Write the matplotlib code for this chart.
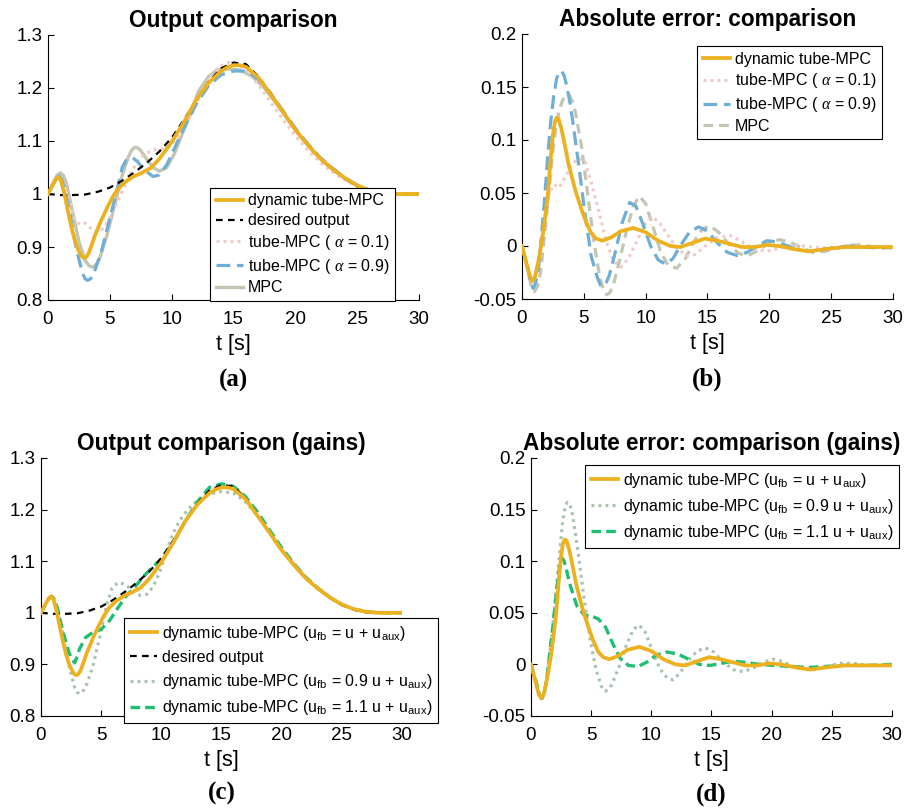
import matplotlib
matplotlib.use("Agg")
import matplotlib.pyplot as plt

plt.rcParams["font.family"] = ["Liberation Sans", "DejaVu Sans"]
plt.rcParams["mathtext.fontset"] = "custom"
plt.rcParams["mathtext.rm"] = "Liberation Sans"
plt.rcParams["mathtext.it"] = "Liberation Serif:italic"
plt.rcParams["lines.solid_joinstyle"] = "round"
plt.rcParams["lines.dash_joinstyle"] = "round"

# ---- data ------------------------------------------------------------------
# (a) / (c) outputs
T_DES = [0, 1, 2, 3, 4, 5, 6, 7, 8, 9, 10, 11, 12, 13, 14, 15, 16, 17, 18, 19,
         20, 21, 22, 23, 24, 25, 26, 27, 28, 30]
Y_DES = [1.0, 0.998, 0.998, 0.999, 1.004, 1.012, 1.025, 1.041, 1.059, 1.08,
         1.106, 1.14, 1.178, 1.212, 1.237, 1.248, 1.245, 1.222, 1.19, 1.156,
         1.122, 1.093, 1.067, 1.047, 1.029, 1.015, 1.006, 1.001, 1.0, 1.0]

T_DYN_OUT = [0, 0.4, 0.65, 0.85, 1.05, 1.3, 1.5, 1.7, 1.9, 2.1, 2.3, 2.5, 2.7,
             2.9, 3.1, 3.3, 3.55, 3.8, 4.3, 4.8, 5.2, 5.6, 6.2, 6.9, 7.6, 8.3,
             9.0, 10, 11, 12, 13, 14, 14.5, 15, 15.5, 16, 17, 18, 19, 20, 21,
             22, 23, 24, 25, 26, 27, 28, 30]
Y_DYN_OUT = [1.0, 1.018, 1.028, 1.032, 1.025, 1.003, 0.98, 0.958, 0.937, 0.918,
             0.903, 0.892, 0.883, 0.879, 0.881, 0.889, 0.905, 0.922, 0.95, 0.975,
             0.993, 1.008, 1.022, 1.033, 1.04, 1.049, 1.066, 1.098, 1.136, 1.178,
             1.21, 1.232, 1.239, 1.243, 1.243, 1.24, 1.22, 1.188, 1.155, 1.121,
             1.093, 1.067, 1.047, 1.03, 1.016, 1.007, 1.002, 1.0, 1.0]

T_TUBE01_OUT = [0, 0.45, 0.7, 0.9, 1.1, 1.35, 1.8, 2.2, 2.6, 3.0, 3.5, 4.0, 4.5,
                5.0, 5.5, 6.0, 6.6, 7.2, 7.8, 8.5, 9.2, 9.8, 10.4, 11.0, 11.6,
                12.3, 13.0, 13.8, 14.6, 15.4, 16.2, 17.2, 18.2, 19.2, 20.2, 21.2,
                22.2, 23.2, 24.2, 25.2, 26.2, 27.2, 28.2, 30]
Y_TUBE01_OUT = [1.0, 1.02, 1.029, 1.032, 1.026, 1.012, 0.98, 0.95, 0.942, 0.945,
                0.935, 0.928, 0.935, 0.955, 0.98, 1.005, 1.035, 1.06, 1.075, 1.083,
                1.085, 1.09, 1.105, 1.125, 1.15, 1.185, 1.215, 1.24, 1.248, 1.245,
                1.23, 1.2, 1.167, 1.134, 1.104, 1.078, 1.056, 1.038, 1.024, 1.012,
                1.004, 1.0, 0.999, 1.0]

T_TUBE09_OUT = [0, 0.45, 0.7, 0.9, 1.1, 1.35, 1.8, 2.3, 2.8, 3.0, 3.2, 3.45, 3.7,
                4.3, 4.9, 5.5, 6.0, 6.3, 6.6, 6.9, 7.2, 7.8, 8.5, 9.0, 9.6, 10.2,
                11, 12, 13, 14, 15, 16, 17, 18, 19, 20, 21, 22, 23, 24, 25, 26,
                27, 28, 30]
Y_TUBE09_OUT = [1.0, 1.02, 1.03, 1.034, 1.028, 1.01, 0.96, 0.895, 0.85, 0.84,
                0.837, 0.84, 0.85, 0.89, 0.945, 1.0, 1.05, 1.063, 1.068, 1.067,
                1.062, 1.045, 1.033, 1.036, 1.055, 1.085, 1.125, 1.17, 1.205, 1.225,
                1.232, 1.232, 1.217, 1.19, 1.157, 1.124, 1.095, 1.069, 1.049, 1.031,
                1.017, 1.007, 1.002, 1.0, 1.0]

T_MPC_OUT = [0, 0.5, 0.75, 1.0, 1.25, 1.5, 2.0, 2.5, 3.0, 3.3, 3.6, 3.9, 4.2,
             4.8, 5.4, 6.0, 6.5, 6.75, 7.0, 7.25, 7.5, 8.0, 8.5, 9.0, 9.6, 10.2,
             10.8, 11.5, 12.2, 13.0, 13.7, 14.5, 15.5, 16.5, 17.5, 18.5, 19.5,
             20.5, 21.5, 22.5, 23.5, 24.5, 25.5, 26.5, 27.5, 30]
Y_MPC_OUT = [1.0, 1.025, 1.036, 1.04, 1.035, 1.02, 0.965, 0.91, 0.875, 0.865,
             0.862, 0.867, 0.88, 0.925, 0.98, 1.035, 1.07, 1.082, 1.088, 1.087,
             1.082, 1.065, 1.05, 1.043, 1.05, 1.075, 1.11, 1.15, 1.195, 1.222,
             1.234, 1.236, 1.234, 1.222, 1.2, 1.17, 1.137, 1.106, 1.079, 1.057,
             1.038, 1.022, 1.01, 1.003, 1.0, 1.0]

T_GAIN09_OUT = [0, 0.45, 0.7, 0.9, 1.1, 1.35, 1.8, 2.3, 2.8, 3.0, 3.2, 3.45, 3.7,
                4.3, 4.9, 5.4, 5.9, 6.4, 7.0, 7.6, 8.2, 8.8, 9.3, 9.8, 10.3, 10.9,
                11.5, 12.2, 13, 14, 15, 16, 17, 18, 19, 20, 21, 22, 23, 24, 25,
                26, 27, 28, 30]
Y_GAIN09_OUT = [1.0, 1.02, 1.029, 1.032, 1.026, 1.01, 0.96, 0.9, 0.855, 0.846,
                0.843, 0.847, 0.855, 0.895, 0.955, 1.01, 1.048, 1.059, 1.055, 1.043,
                1.034, 1.036, 1.05, 1.075, 1.11, 1.15, 1.178, 1.2, 1.218, 1.23,
                1.235, 1.232, 1.215, 1.187, 1.155, 1.123, 1.094, 1.068, 1.048, 1.03,
                1.016, 1.007, 1.002, 1.0, 1.0]

T_GAIN11_OUT = [0, 0.45, 0.7, 0.9, 1.1, 1.35, 1.8, 2.3, 2.55, 2.8, 3.0, 3.2, 3.7,
                4.3, 5.0, 5.7, 6.4, 7.1, 7.8, 8.5, 9.2, 9.9, 10.5, 11.2, 12, 13,
                14, 15, 16, 17, 18, 19, 20, 21, 22, 23, 24, 25, 26, 27, 28, 30]
Y_GAIN11_OUT = [1.0, 1.02, 1.029, 1.032, 1.026, 1.01, 0.965, 0.925, 0.91, 0.903,
                0.915, 0.93, 0.952, 0.962, 0.968, 0.985, 1.01, 1.033, 1.05, 1.07,
                1.087, 1.102, 1.12, 1.145, 1.178, 1.215, 1.243, 1.25, 1.245, 1.225,
                1.195, 1.16, 1.126, 1.096, 1.069, 1.048, 1.03, 1.016, 1.007, 1.002,
                1.0, 1.0]

# (b) / (d) errors
T_DYN_ERR = [0, 0.4, 0.65, 0.85, 1.05, 1.3, 1.5, 1.7, 1.9, 2.1, 2.3, 2.5, 2.65,
             2.8, 2.95, 3.2, 3.5, 3.75, 4.3, 4.83, 5.2, 5.6, 6.0, 6.5, 7.2, 8.0,
             9.0, 10.0, 11.0, 12.0, 12.8, 13.8, 14.8, 15.8, 16.8, 17.8, 18.8,
             19.8, 20.8, 22.0, 23.2, 24.5, 26.0, 27.5, 30]
E_DYN_ERR = [0, -0.018, -0.029, -0.033, -0.029, -0.016, -0.003, 0.012, 0.03, 0.05,
             0.08, 0.105, 0.117, 0.121, 0.12, 0.11, 0.093, 0.078, 0.053, 0.034,
             0.022, 0.012, 0.007, 0.005, 0.008, 0.014, 0.017, 0.013, 0.005, 0.0,
             -0.001, 0.003, 0.007, 0.005, 0.002, -0.001, -0.001, 0.001, 0.0,
             -0.003, -0.005, -0.003, -0.001, -0.001, -0.001]

T_TUBE01_ERR = [0, 0.45, 0.7, 0.9, 1.1, 1.35, 1.8, 2.2, 2.6, 3.0, 3.5, 4.0, 4.6,
                5.1, 5.6, 6.2, 6.8, 7.4, 8.0, 8.6, 9.3, 9.9, 10.4, 11.0, 11.7,
                12.5, 13.3, 14.0, 14.8, 15.8, 16.8, 17.8, 18.8, 19.8, 20.8, 22.0,
                23.5, 25.0, 27.0, 30]
E_TUBE01_ERR = [0, -0.018, -0.03, -0.035, -0.03, -0.012, 0.025, 0.05, 0.058,
                0.055, 0.065, 0.077, 0.083, 0.08, 0.06, 0.033, 0.005, -0.014,
                -0.02, -0.012, 0.005, 0.02, 0.027, 0.024, 0.012, -0.002, -0.009,
                -0.008, 0.0, 0.008, 0.01, 0.004, -0.003, -0.005, -0.002, 0.001,
                -0.001, -0.002, -0.001, -0.001]

T_TUBE09_ERR = [0, 0.45, 0.7, 0.9, 1.1, 1.35, 1.8, 2.05, 2.3, 2.55, 2.8, 3.0, 3.2,
                3.4, 3.6, 3.85, 4.1, 4.6, 5.1, 5.6, 6.1, 6.35, 6.55, 6.8, 7.05,
                7.5, 8.1, 8.7, 9.2, 9.8, 10.4, 11.0, 11.6, 12.2, 12.9, 13.6, 14.3,
                15.0, 15.8, 16.6, 17.4, 18.2, 19.0, 19.8, 20.6, 21.5, 22.5, 23.5,
                24.5, 25.5, 26.5, 27.5, 29, 30]
E_TUBE09_ERR = [0, -0.02, -0.035, -0.04, -0.035, -0.02, 0.04, 0.08, 0.115, 0.14,
                0.158, 0.164, 0.165, 0.161, 0.152, 0.137, 0.118, 0.075, 0.03,
                -0.01, -0.03, -0.037, -0.038, -0.035, -0.028, -0.008, 0.022, 0.041,
                0.038, 0.02, 0.0, -0.013, -0.017, -0.012, 0.002, 0.014, 0.018,
                0.014, 0.003, -0.006, -0.009, -0.006, 0.0, 0.005, 0.004, 0.0,
                -0.004, -0.005, -0.003, -0.001, 0.0, -0.001, -0.002, -0.001]

T_MPC_ERR = [0, 0.5, 0.75, 1.0, 1.25, 1.5, 2.0, 2.5, 2.75, 3.0, 3.3, 3.55, 3.8,
             4.05, 4.3, 4.8, 5.3, 5.8, 6.3, 6.6, 6.85, 7.1, 7.35, 7.8, 8.4, 9.0,
             9.5, 10.0, 10.6, 11.2, 11.8, 12.5, 13.2, 14.0, 14.6, 15.2, 15.9,
             16.7, 17.5, 18.3, 19.1, 20.0, 20.8, 21.6, 22.5, 23.5, 24.5, 25.5,
             26.5, 27.5, 28.5, 30]
E_MPC_ERR = [0, -0.025, -0.038, -0.043, -0.038, -0.025, 0.03, 0.09, 0.112, 0.128,
             0.138, 0.142, 0.143, 0.137, 0.127, 0.095, 0.05, 0.005, -0.03, -0.042,
             -0.046, -0.044, -0.038, -0.018, 0.012, 0.038, 0.047, 0.04, 0.018,
             -0.005, -0.018, -0.021, -0.012, 0.006, 0.016, 0.019, 0.013, 0.002,
             -0.007, -0.009, -0.004, 0.003, 0.006, 0.004, -0.001, -0.006, -0.005,
             -0.002, 0.001, 0.001, -0.001, -0.002]

T_GAIN09_ERR = [0, 0.45, 0.7, 0.9, 1.1, 1.35, 1.8, 2.2, 2.6, 2.8, 3.0, 3.2, 3.4,
                3.65, 3.9, 4.4, 4.9, 5.4, 5.9, 6.2, 6.7, 7.3, 7.9, 8.5, 9.0, 9.5,
                10.1, 10.7, 11.3, 11.8, 12.4, 13.1, 13.8, 14.5, 15.2, 16.0, 16.8,
                17.6, 18.4, 19.3, 20.1, 20.9, 21.8, 22.8, 23.6, 24.6, 25.7, 26.7,
                28, 30]
E_GAIN09_ERR = [0, -0.018, -0.029, -0.033, -0.029, -0.01, 0.035, 0.085, 0.135,
                0.15, 0.157, 0.156, 0.148, 0.13, 0.11, 0.065, 0.025, -0.005,
                -0.023, -0.026, -0.02, -0.003, 0.018, 0.034, 0.038, 0.031, 0.013,
                -0.004, -0.013, -0.015, -0.008, 0.004, 0.013, 0.016, 0.012, 0.002,
                -0.005, -0.007, -0.004, 0.002, 0.005, 0.003, -0.002, -0.005, -0.005,
                -0.002, 0.001, 0.001, -0.001, -0.001]

T_GAIN11_ERR = [0, 0.45, 0.7, 0.9, 1.1, 1.35, 1.8, 2.2, 2.4, 2.6, 2.75, 2.9, 3.1,
                3.3, 3.8, 4.4, 5.0, 5.6, 6.2, 6.8, 7.4, 8.1, 8.9, 9.6, 10.4, 11.3,
                12.2, 13.1, 14.0, 14.9, 15.8, 16.8, 17.8, 19.0, 20.2, 21.5, 23.0,
                24.5, 26.0, 28.0, 30]
E_GAIN11_ERR = [0, -0.018, -0.029, -0.033, -0.029, -0.01, 0.035, 0.08, 0.097,
                0.103, 0.1, 0.094, 0.084, 0.075, 0.057, 0.048, 0.047, 0.044, 0.036,
                0.02, 0.006, -0.001, -0.002, 0.002, 0.009, 0.012, 0.01, 0.005, 0.0,
                -0.001, 0.001, 0.003, 0.002, 0.0, -0.001, -0.002, -0.003, -0.002,
                -0.001, -0.001, 0.0]

X_TICKS = [0, 5, 10, 15, 20, 25, 30]
Y_TICKS_OUT = [0.8, 0.9, 1.0, 1.1, 1.2, 1.3]
Y_TICKS_ERR = [-0.05, 0, 0.05, 0.1, 0.15, 0.2]

LBL_DYN = "dynamic tube-MPC"
LBL_DES = "desired output"
LBL_T01 = r"tube-MPC ( $\alpha$ = 0.1)"
LBL_T09 = r"tube-MPC ( $\alpha$ = 0.9)"
LBL_MPC = "MPC"
LBL_G10 = r"dynamic tube-MPC (u$_{\mathregular{fb}}$ = u + u$_{\mathregular{aux}}$)"
LBL_G09 = r"dynamic tube-MPC (u$_{\mathregular{fb}}$ = 0.9 u + u$_{\mathregular{aux}}$)"
LBL_G11 = r"dynamic tube-MPC (u$_{\mathregular{fb}}$ = 1.1 u + u$_{\mathregular{aux}}$)"

# ---- styles ------------------------------------------------------------------
ST_DYN = dict(color="#EDB120", lw=2.7, zorder=6)
ST_DES = dict(color="black", lw=1.6, dashes=(3.0, 2.4), zorder=5)
ST_T01 = dict(color="#F2C9C9", lw=2.3, dashes=(0.9, 1.3), zorder=3)
ST_T09 = dict(color="#6FAED6", lw=2.3, dashes=(4.3, 2.1), zorder=4)
ST_MPC_SOLID = dict(color="#C3C6B2", lw=2.4, zorder=2)
ST_MPC_DASH = dict(color="#C3C6B2", lw=2.3, dashes=(3.0, 1.9), zorder=2)
ST_G09 = dict(color="#A9C4AE", lw=2.3, dashes=(0.9, 1.3), zorder=3)
ST_G11 = dict(color="#1FBF72", lw=2.4, dashes=(2.9, 1.5), zorder=4)

W, H = 912, 808
fig = plt.figure(figsize=(W / 100, H / 100), dpi=100)


def px_axes(left, top, right, bottom):
    return fig.add_axes([left / W, 1 - bottom / H, (right - left) / W, (bottom - top) / H])


def style_axes(ax, yticks, ylim, title, letter):
    ax.set_xlim(0, 30)
    ax.set_ylim(*ylim)
    ax.set_xticks(X_TICKS)
    ax.set_xticklabels([f"{v:g}" for v in X_TICKS])
    ax.set_yticks(yticks)
    ax.set_yticklabels([f"{v:g}" for v in yticks])
    for s in ("top", "right"):
        ax.spines[s].set_visible(False)
    for s in ("left", "bottom"):
        ax.spines[s].set_linewidth(0.8)
    ax.tick_params(direction="in", length=4, width=0.8, labelsize=13.5)
    ax.tick_params(axis="x", pad=8)
    ax.tick_params(axis="y", pad=4)
    ax.set_title(title, fontsize=16.3, fontweight="bold", pad=6)
    ax.set_xlabel("t [s]", fontsize=15.5, labelpad=4)
    ax.text(0.5, -0.302, letter, transform=ax.transAxes, ha="center", va="center",
            fontsize=18, fontweight="bold", family="Liberation Serif")


def add_legend(ax, handles, loc, anchor, spacing=0.3):
    leg = ax.legend(handles=handles, loc=loc, bbox_to_anchor=anchor, borderaxespad=0,
                    fontsize=11.5, frameon=True, fancybox=False, framealpha=1,
                    edgecolor="black", handlelength=1.7, handletextpad=0.3,
                    labelspacing=spacing, borderpad=0.35)
    leg.get_frame().set_linewidth(0.8)
    leg.set_zorder(10)
    return leg


# (a) output comparison
ax_a = px_axes(48, 35, 419, 300)
h_mpc, = ax_a.plot(T_MPC_OUT, Y_MPC_OUT, label=LBL_MPC, **ST_MPC_SOLID)
h_t01, = ax_a.plot(T_TUBE01_OUT, Y_TUBE01_OUT, label=LBL_T01, **ST_T01)
h_t09, = ax_a.plot(T_TUBE09_OUT, Y_TUBE09_OUT, label=LBL_T09, **ST_T09)
h_des, = ax_a.plot(T_DES, Y_DES, label=LBL_DES, **ST_DES)
h_dyn, = ax_a.plot(T_DYN_OUT, Y_DYN_OUT, label=LBL_DYN, **ST_DYN)
style_axes(ax_a, Y_TICKS_OUT, (0.8, 1.3), "Output comparison", "(a)")
add_legend(ax_a, [h_dyn, h_des, h_t01, h_t09, h_mpc], "lower right", (0.935, -0.004))

# (b) absolute error
ax_b = px_axes(522, 34, 893, 299)
h_mpc, = ax_b.plot(T_MPC_ERR, E_MPC_ERR, label=LBL_MPC, **ST_MPC_DASH)
h_t01, = ax_b.plot(T_TUBE01_ERR, E_TUBE01_ERR, label=LBL_T01, **ST_T01)
h_t09, = ax_b.plot(T_TUBE09_ERR, E_TUBE09_ERR, label=LBL_T09, **ST_T09)
h_dyn, = ax_b.plot(T_DYN_ERR, E_DYN_ERR, label=LBL_DYN, **ST_DYN)
style_axes(ax_b, Y_TICKS_ERR, (-0.05, 0.2), "Absolute error: comparison", "(b)")
add_legend(ax_b, [h_dyn, h_t01, h_t09, h_mpc], "upper right", (0.97, 0.955))

# (c) output comparison (gains)
ax_c = px_axes(41, 458, 402, 716)
h_g09, = ax_c.plot(T_GAIN09_OUT, Y_GAIN09_OUT, label=LBL_G09, **ST_G09)
h_g11, = ax_c.plot(T_GAIN11_OUT, Y_GAIN11_OUT, label=LBL_G11, **ST_G11)
h_des, = ax_c.plot(T_DES, Y_DES, label=LBL_DES, **ST_DES)
h_dyn, = ax_c.plot(T_DYN_OUT, Y_DYN_OUT, label=LBL_G10, **ST_DYN)
style_axes(ax_c, Y_TICKS_OUT, (0.8, 1.3), "Output comparison (gains)", "(c)")
add_legend(ax_c, [h_dyn, h_des, h_g09, h_g11], "lower right", (1.0997, -0.027), 0.45)

# (d) absolute error (gains)
ax_d = px_axes(531, 458, 892, 716)
h_g09, = ax_d.plot(T_GAIN09_ERR, E_GAIN09_ERR, label=LBL_G09, **ST_G09)
h_g11, = ax_d.plot(T_GAIN11_ERR, E_GAIN11_ERR, label=LBL_G11, **ST_G11)
h_dyn, = ax_d.plot(T_DYN_ERR, E_DYN_ERR, label=LBL_G10, **ST_DYN)
style_axes(ax_d, Y_TICKS_ERR, (-0.05, 0.2), "Absolute error: comparison (gains)", "(d)")
add_legend(ax_d, [h_dyn, h_g09, h_g11], "upper right", (1.019, 0.973), 0.45)

fig.savefig("out.png", dpi=100)
